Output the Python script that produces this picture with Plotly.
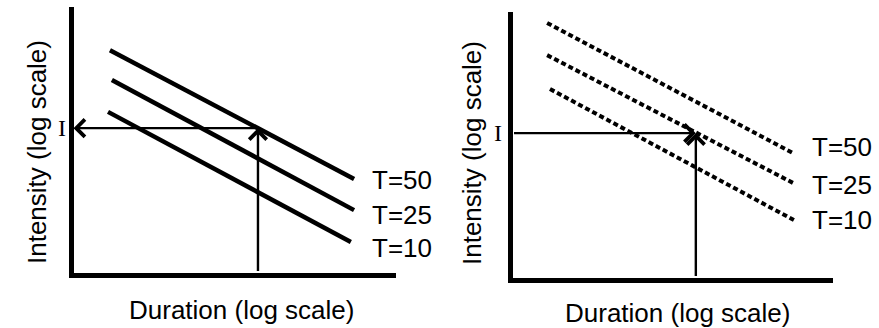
import plotly.graph_objects as go

# ---- data (abstract log-units along each axis) ----
return_periods = ["T=50", "T=25", "T=10"]

left_dur_start = [1.13, 1.19, 1.07]
left_dur_end = [8.70, 8.70, 8.60]
left_int_start = [6.70, 5.80, 4.84]
left_int_end = [2.82, 1.88, 0.92]

right_dur_start = [1.08, 1.08, 1.17]
right_dur_end = [8.75, 8.75, 8.78]
right_int_start = [7.67, 6.70, 5.68]
right_int_end = [3.75, 2.85, 1.73]

design_duration = 5.72
design_intensity = 4.35

left_label_x = 9.19
left_label_y = [2.78, 1.73, 0.74]
right_label_x = 9.28
right_label_y = [3.93, 2.79, 1.73]

x_title = "Duration (log scale)"
y_title = "Intensity (log scale)"
design_label = "I"

W, H = 879, 328
SANS = "Liberation Sans, Arial, Helvetica, sans-serif"
SERIF = "Liberation Serif, Times New Roman, serif"

fig = go.Figure()

for i, name in enumerate(return_periods):
    fig.add_trace(go.Scatter(
        x=[left_dur_start[i], left_dur_end[i]],
        y=[left_int_start[i], left_int_end[i]],
        mode="lines", line=dict(color="black", width=4.5),
        xaxis="x", yaxis="y", name=name, hoverinfo="skip"))
    fig.add_trace(go.Scatter(
        x=[right_dur_start[i], right_dur_end[i]],
        y=[right_int_start[i], right_int_end[i]],
        mode="lines", line=dict(color="black", width=4, dash="5px,3px"),
        xaxis="x2", yaxis="y2", name=name, hoverinfo="skip"))

annotations = []
for xa, ya, lx, lys in (("x", "y", left_label_x, left_label_y),
                        ("x2", "y2", right_label_x, right_label_y)):
    for name, ly in zip(return_periods, lys):
        annotations.append(dict(x=lx, y=ly, xref=xa, yref=ya, text=name,
                                showarrow=False, xanchor="left", yanchor="middle",
                                font=dict(family=SANS, size=26, color="black")))

def arrow(xa, ya, x, y, ax, ay):
    return dict(x=x, y=y, ax=ax, ay=ay, xref=xa, yref=ya, axref=xa, ayref=ya,
                text="", showarrow=True, arrowhead=4, arrowsize=1.4,
                arrowwidth=2.4, arrowcolor="black", standoff=0, startstandoff=0)

# left panel: read intensity from duration
annotations.append(arrow("x", "y", design_duration, design_intensity, design_duration, 0))
annotations.append(arrow("x", "y", 0, design_intensity, design_duration, design_intensity))
# right panel: read duration from intensity
annotations.append(arrow("x2", "y2", design_duration, design_intensity, 0, design_intensity))
annotations.append(arrow("x2", "y2", design_duration, design_intensity, design_duration, 0))

annotations.append(dict(x=0, y=design_intensity, xref="x", yref="y", text=design_label,
                        showarrow=False, xanchor="right", yanchor="middle", xshift=-6,
                        font=dict(family=SERIF, size=24, color="black")))
annotations.append(dict(x=0, y=design_intensity, xref="x2", yref="y2", text=design_label,
                        showarrow=False, xanchor="right", yanchor="middle", xshift=-9,
                        font=dict(family=SERIF, size=24, color="black")))

# axis titles
for px, py, txt, ang in ((241, 310, x_title, 0), (677, 313, x_title, 0),
                         (37, 152, y_title, -90), (472, 153, y_title, -90)):
    annotations.append(dict(x=px / W, y=1 - py / H, xref="paper", yref="paper",
                            text=txt, showarrow=False, textangle=ang,
                            xanchor="center", yanchor="middle",
                            font=dict(family=SANS, size=26, color="black")))

ax_common = dict(showline=True, linewidth=5, linecolor="black", showgrid=False,
                 zeroline=False, showticklabels=False, ticks="", fixedrange=True)

fig.update_layout(
    width=W, height=H, margin=dict(l=0, r=0, t=0, b=0),
    paper_bgcolor="white", plot_bgcolor="white", showlegend=False,
    xaxis=dict(domain=[73.5 / W, 396 / W], range=[0, 10], anchor="y", **ax_common),
    yaxis=dict(domain=[1 - 272.5 / H, 1 - 7 / H], range=[0, 8], anchor="x", **ax_common),
    xaxis2=dict(domain=[512.5 / W, 833 / W], range=[0, 10], anchor="y2", **ax_common),
    yaxis2=dict(domain=[1 - 277.5 / H, 1 - 12 / H], range=[0, 8], anchor="x2", **ax_common),
    annotations=annotations,
)

fig.write_html("out.html", config={"displayModeBar": False},
               post_script="document.body.style.margin='0';document.body.style.overflow='hidden';")
